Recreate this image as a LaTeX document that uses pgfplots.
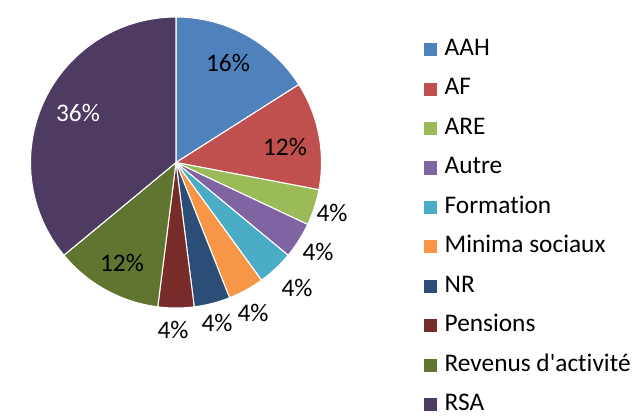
\documentclass[border=0pt]{standalone}
\usepackage{pgfplots}
\pgfplotsset{compat=1.18}
\usepackage{fontspec}
\setmainfont{Carlito}[Ligatures={NoCommon}]
\definecolor{cAAH}{HTML}{4F81BD}
\definecolor{cAF}{HTML}{C0504D}
\definecolor{cARE}{HTML}{9BBB59}
\definecolor{cAutre}{HTML}{8064A2}
\definecolor{cForm}{HTML}{4BACC6}
\definecolor{cMin}{HTML}{F79646}
\definecolor{cNR}{HTML}{2C4D75}
\definecolor{cPen}{HTML}{772C2A}
\definecolor{cRev}{HTML}{5F7530}
\definecolor{cRSA}{HTML}{4D3B62}
% slice: colour, cumulative start (%), value (%)
\newcommand{\slice}[3]{%
  \pgfmathsetmacro{\sa}{90-3.6*(#2+#3)}%
  \pgfmathsetmacro{\sb}{90-3.6*(#2)}%
  \edef\temp{\noexpand\addplot[fill=#1, draw=white, line width=0.8pt, domain=\sa:\sb, samples=60]
    ({176+145.5*cos(x)},{249.5+145.5*sin(x)}) -- (axis cs:176,249.5) -- cycle;}%
  \temp
}
\newcommand{\lfont}{\fontsize{19}{22}\selectfont}
\begin{document}
\begin{tikzpicture}
\begin{axis}[
  scale only axis, width=477.75pt, height=309pt,
  xmin=0, xmax=637, ymin=0, ymax=412,
  hide axis, clip=false,
  legend cell align=left,
  legend style={draw=none, fill=none, inner sep=0pt, outer sep=0pt,
    at={(axis cs:424,372)}, anchor=north west,
    row sep=14.6pt, column sep=5.5pt,
    font=\lfont,
    nodes={inner sep=0pt, text height=11.5pt, text depth=3.5pt}},
  legend image code/.code={\fill[#1, draw=none] (0pt,-4.6pt) rectangle (10pt,5.2pt);},
]
\addplot[draw=none, forget plot] coordinates {(0,0) (637,412)};
\slice{cAAH}{0}{16}
\slice{cAF}{16}{12}
\slice{cARE}{28}{4}
\slice{cAutre}{32}{4}
\slice{cForm}{36}{4}
\slice{cMin}{40}{4}
\slice{cNR}{44}{4}
\slice{cPen}{48}{4}
\slice{cRev}{52}{12}
\slice{cRSA}{64}{36}
\legend{AAH, AF, ARE, Autre, Formation, Minima sociaux, NR, Pensions, Revenus d\textquotesingle activité, RSA}
\begin{scope}[every node/.style={font=\lfont, inner sep=0pt}]
\node at (axis cs:228,349) {16\%};
\node at (axis cs:285,265) {12\%};
\node[text=white] at (axis cs:78,299) {36\%};
\node at (axis cs:122,149) {12\%};
\node at (axis cs:332,199) {4\%};
\node at (axis cs:318,160) {4\%};
\node at (axis cs:297,124) {4\%};
\node at (axis cs:253,99) {4\%};
\node at (axis cs:217,89) {4\%};
\node at (axis cs:173,82) {4\%};
\end{scope}
\end{axis}
\end{tikzpicture}
\end{document}
